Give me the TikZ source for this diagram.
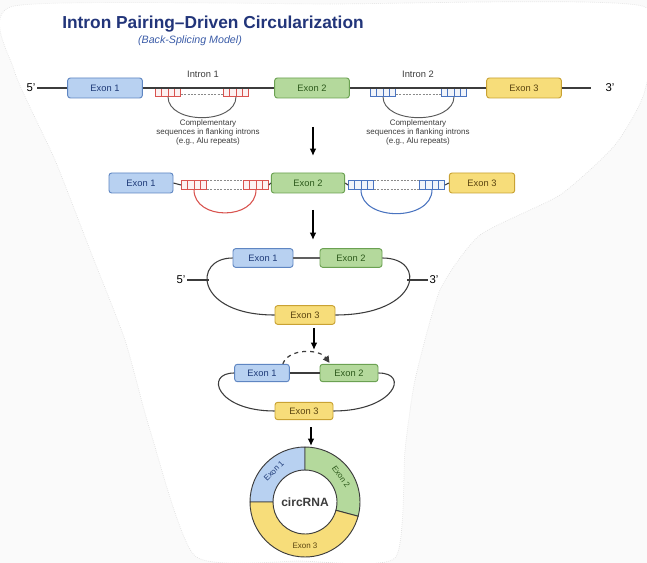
\documentclass[tikz,border=0pt]{standalone}
\usepackage{fontspec}
\setmainfont{Liberation Sans}
\usepackage{tikz}
\usetikzlibrary{arrows.meta, positioning, calc}
\definecolor{navy}{HTML}{22357A}
\definecolor{subblue}{HTML}{3B5CA8}
\definecolor{exbluebg}{HTML}{B8D1F1}
\definecolor{exblue}{HTML}{5F86C2}
\definecolor{exbluetx}{HTML}{1E3A78}
\definecolor{exgreenbg}{HTML}{B4D99C}
\definecolor{exgreen}{HTML}{6BA152}
\definecolor{exgreentx}{HTML}{2D5A1C}
\definecolor{exyellowbg}{HTML}{F7DD7A}
\definecolor{exyellow}{HTML}{C9A233}
\definecolor{exyellowtx}{HTML}{5A4410}
\definecolor{alured}{HTML}{D9534F}
\definecolor{alublue}{HTML}{4A74C0}
\definecolor{strand}{HTML}{3C3C3C}
\definecolor{pairgray}{HTML}{8A8A8A}
\definecolor{paper}{HTML}{FAFAFA}
\tikzset{
  exon/.style={rectangle, rounded corners=2pt, line width=0.7pt, inner sep=0pt,
    font=\fontsize{7}{8}\selectfont, minimum height=15pt},
  exon/one/.style={exon, draw=exblue, fill=exbluebg, text=exbluetx},
  exon/two/.style={exon, draw=exgreen, fill=exgreenbg, text=exgreentx},
  exon/three/.style={exon, draw=exyellow, fill=exyellowbg, text=exyellowtx},
  alu ticks/.style={path picture={
    \foreach \f in {0.25,0.5,0.75}
      \draw[#1, line width=0.45pt]
        ($(path picture bounding box.south west)!\f!(path picture bounding box.south east)$) --
        ($(path picture bounding box.north west)!\f!(path picture bounding box.north east)$);}},
  alu/.style={rectangle, line width=0.5pt, inner sep=0pt, minimum width=19pt, minimum height=6.5pt},
  alu/red/.style={alu, draw=alured, fill=alured!8, alu ticks=alured},
  alu/blue/.style={alu, draw=alublue, fill=alublue!8, alu ticks=alublue},
  strandline/.style={draw=strand, line width=0.8pt},
  pairline/.style={draw=pairgray, line width=0.6pt, dash pattern=on 1.5pt off 1pt},
  flow/.style={-{Latex[length=5.5pt,width=5pt]}, line width=1.1pt, draw=black},
  lbl/.style={font=\fontsize{7}{8}\selectfont, text=strand, inner sep=1pt},
  endlbl/.style={font=\fontsize{8.5}{9}\selectfont, inner sep=1pt},
  note/.style={font=\fontsize{6}{6.8}\selectfont, align=center, text=strand},
  ringlbl/.style={font=\fontsize{6}{6.5}\selectfont, inner sep=0pt},
}

\begin{document}
\begin{tikzpicture}[x=0.75pt, y=-0.75pt]
\useasboundingbox (0,0) rectangle (647,563);

% paper
\fill[paper] (0,0) rectangle (647,563);
\fill[white] plot[smooth cycle, tension=0.35] coordinates {(14,6) (330,4) (642,6) (645,90) (615,145)
  (560,195) (480,235) (440,290) (415,380) (405,450) (395,558) (300,561) (195,556) (150,430)
  (125,340) (90,250) (55,160) (14,70)};
\draw[gray!25, densely dotted, line width=0.5pt] plot[smooth cycle, tension=0.35] coordinates {(14,6) (330,4) (642,6) (645,90) (615,145)
  (560,195) (480,235) (440,290) (415,380) (405,450) (395,558) (300,561) (195,556) (150,430)
  (125,340) (90,250) (55,160) (14,70)};

% title
\node[anchor=west, inner sep=0pt, text=navy, font=\bfseries\fontsize{13}{15}\selectfont] (title) at (62,24) {Intron Pairing--Driven Circularization};
\node[text=subblue, font=\itshape\fontsize{8}{9}\selectfont] (subtitle) at (190,41) {(Back-Splicing Model)};

% pre-mRNA
\node[endlbl] (p5a) at (31,88) {5'};
\node[exon/one, minimum width=56pt] (A1) at (105,88) {Exon 1};
\node[alu/red] (R1a) at (168,92) {};
\node[alu/red] (R1b) at (236,92) {};
\node[exon/two, minimum width=56pt] (A2) at (312,88) {Exon 2};
\node[alu/blue] (U1a) at (383,92) {};
\node[alu/blue] (U1b) at (454,92) {};
\node[exon/three, minimum width=56pt] (A3) at (524,88) {Exon 3};
\node[endlbl] (p3a) at (610,88) {3'};
\node[lbl] (in1) at (203,74) {Intron 1};
\node[lbl] (in2) at (418,74) {Intron 2};
\node[note] (cs1) at (208,132) {Complementary\\sequences in flanking introns\\(e.g., Alu repeats)};
\node[note] (cs2) at (418,132) {Complementary\\sequences in flanking introns\\(e.g., Alu repeats)};

\draw[strandline] (p5a.east) -- (A1.west);
\draw[strandline] (A1.east) -- (A2.west);
\draw[strandline] (A2.east) -- (A3.west);
\draw[strandline] (A3.east) -- ++(29,0);
\draw[pairline] ([yshift=-1.5pt]R1a.east) -- ([yshift=-1.5pt]R1b.west);
\draw[pairline] ([yshift=-1.5pt]U1a.east) -- ([yshift=-1.5pt]U1b.west);
\draw[strand!85, line width=0.7pt] (R1a.south) .. controls +(0,28) and +(0,28) .. (R1b.south);
\draw[strand!85, line width=0.7pt] (U1a.south) .. controls +(0,28) and +(0,28) .. (U1b.south);

\coordinate (s1) at (313,127);
\coordinate (t1) at (313,156);
\draw[flow] (s1) -- (t1);

% paired introns
\node[exon/one, minimum width=48pt] (B1) at (141,183) {Exon 1};
\node[alu/red] (R2a) at (194,185) {};
\node[alu/red] (R2b) at (256,185) {};
\node[exon/two, minimum width=55pt] (B2) at (308,183) {Exon 2};
\node[alu/blue] (U2a) at (361,185) {};
\node[alu/blue] (U2b) at (432,185) {};
\node[exon/three, minimum width=49pt] (B3) at (482,183) {Exon 3};

\draw[strandline] (B1.east) -- (R2a.west);
\draw[strandline] (R2b.east) -- (B2.west);
\draw[strandline] (B2.east) -- (U2a.west);
\draw[strandline] (U2b.east) -- (B3.west);
\draw[pairline] (R2a.north east) -- (R2b.north west);
\draw[pairline] (R2a.south east) -- (R2b.south west);
\draw[pairline] (U2a.north east) -- (U2b.north west);
\draw[pairline] (U2a.south east) -- (U2b.south west);
\draw[alured, line width=0.8pt] (R2a.south) .. controls +(0,31) and +(0,31) .. (R2b.south);
\draw[alublue, line width=0.8pt] (U2a.south) .. controls +(0,32) and +(0,32) .. (U2b.south);

\coordinate (s2) at (313,210);
\coordinate (t2) at (313,240);
\draw[flow] (s2) -- (t2);

% looped pre-mRNA
\node[exon/one, minimum width=45pt, minimum height=14pt] (C1) at (263,258) {Exon 1};
\node[exon/two, minimum width=46.5pt, minimum height=14pt] (C2) at (351,258) {Exon 2};
\node[exon/three, minimum width=45pt, minimum height=14pt] (C3) at (305,315) {Exon 3};
\node[endlbl] (p5c) at (181,280) {5'};
\node[endlbl] (p3c) at (434,280) {3'};
\coordinate (l5) at (209,280);
\coordinate (r3) at (407,280);

\draw[gray!75!black, line width=1.4pt] (C1.east) -- (C2.west);
\draw[strandline] (C1.west) .. controls +(-40,0) and +(-80,0) .. (C3.west);
\draw[strandline] (C2.east) .. controls +(45,0) and +(85,0) .. (C3.east);
\draw[strandline] (p5c.east) -- (l5);
\draw[strandline] (r3) -- (p3c.west);

\coordinate (s3) at (314,328);
\coordinate (t3) at (314,350);
\draw[flow] (s3) -- (t3);

% back-splicing
\node[exon/one, minimum width=41pt, minimum height=13pt] (D1) at (262,373) {Exon 1};
\node[exon/two, minimum width=43.5pt, minimum height=13pt] (D2) at (349,373) {Exon 2};
\node[exon/three, minimum width=43.5pt, minimum height=13pt] (D3) at (304,411) {Exon 3};

\draw[strandline] (D1.east) -- (D2.west);
\draw[strandline] (D1.west) .. controls +(-30,0) and +(-58,0) .. (D3.west);
\draw[strandline] (D2.east) .. controls +(32,0) and +(60,0) .. (D3.east);
\draw[strand, line width=0.9pt, dashed, -{Triangle[length=5pt,width=5pt]}]
  ($(D1.north east)+(-7,0)$) .. controls +(6,-16) and +(-10,-14) .. ($(D2.north west)+(10,-1)$);

\coordinate (s4) at (311,427);
\coordinate (t4) at (311,446);
\draw[flow] (s4) -- (t4);

% circRNA
\begin{scope}[shift={(305,502)}, x=0.75pt, y=0.75pt]
\filldraw[draw=strand, line width=0.7pt, fill=exbluebg]
  (90:55) arc[start angle=90, end angle=180, radius=55] -- (180:32)
  arc[start angle=180, end angle=90, radius=32] -- cycle;
\filldraw[draw=strand, line width=0.7pt, fill=exgreenbg]
  (-15:55) arc[start angle=-15, end angle=90, radius=55] -- (90:32)
  arc[start angle=90, end angle=-15, radius=32] -- cycle;
\filldraw[draw=strand, line width=0.7pt, fill=exyellowbg]
  (180:55) arc[start angle=180, end angle=345, radius=55] -- (345:32)
  arc[start angle=345, end angle=180, radius=32] -- cycle;
\node[ringlbl, text=exbluetx, rotate=45] (E1) at (135:44) {Exon 1};
\node[ringlbl, text=exgreentx, rotate=-55] (E2) at (35:44) {Exon 2};
\node[ringlbl, text=exyellowtx] (E3) at (270:44) {Exon 3};
\node[text=strand, font=\bfseries\fontsize{9}{10}\selectfont] (circ) at (0,0) {circRNA};
\end{scope}
\end{tikzpicture}
\end{document}
